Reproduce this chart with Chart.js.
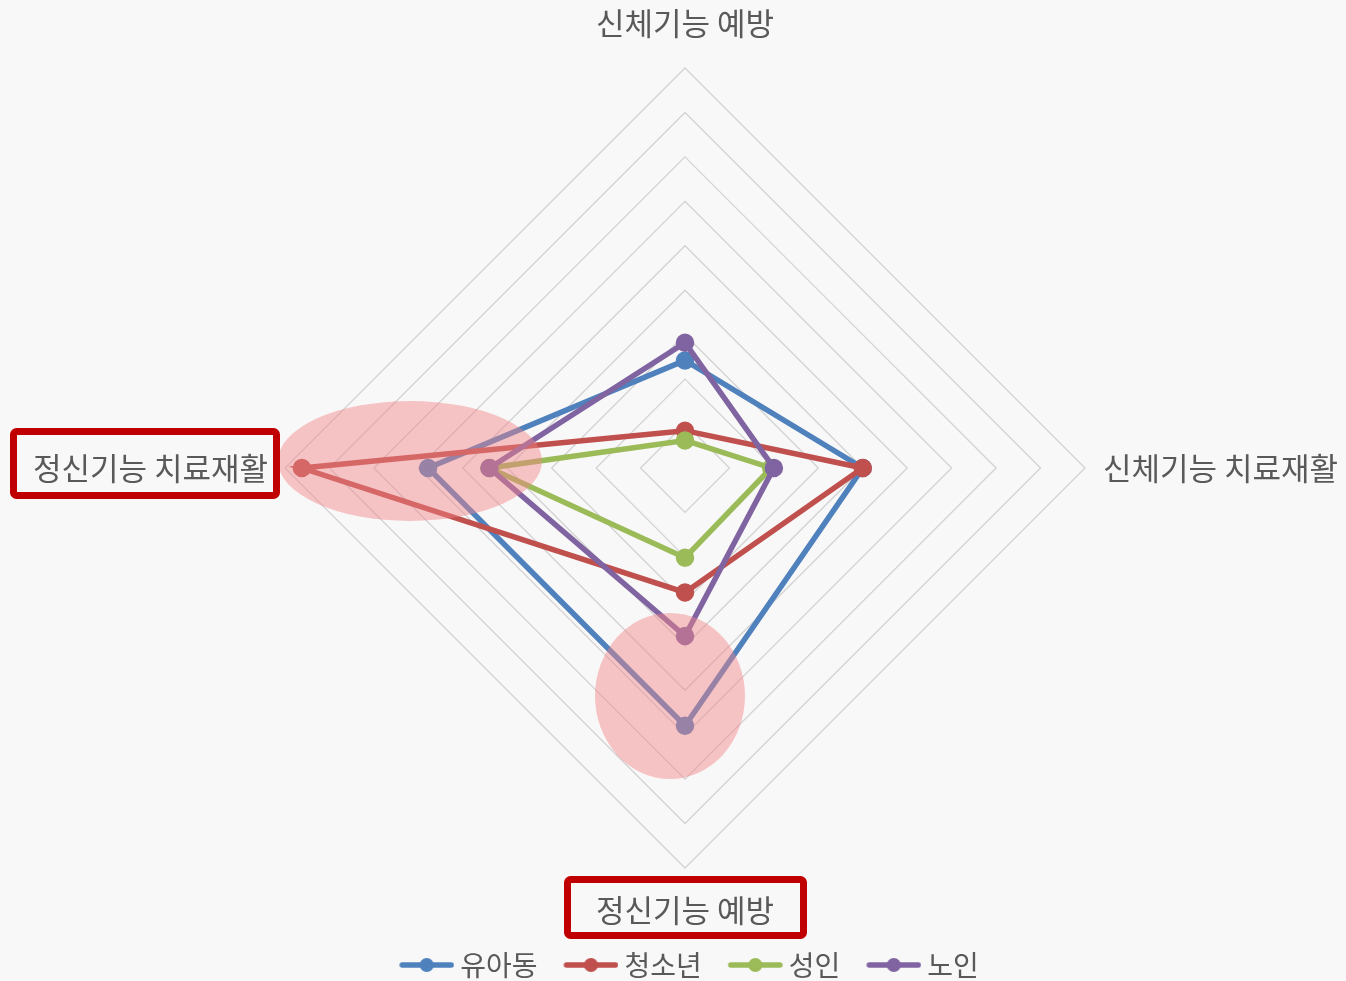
<!DOCTYPE html>
<html>
<head>
<meta charset="utf-8">
<script src="https://cdn.jsdelivr.net/npm/chart.js@4"></script>
<style>
    html, body { margin: 0; padding: 0; background: #f9f8f8; }
    #wrap { width: 1346px; height: 981px; }
</style>
</head>
<body>
<div id="wrap"><canvas id="radarChart" width="1346" height="981"></canvas></div>
<script>
// axis categories, clockwise from the top
const categories = ['신체기능 예방', '신체기능 치료재활', '정신기능 예방', '정신기능 치료재활'];
const seriesNames = ['유아동', '청소년', '성인', '노인'];
const infantValues = [12.1, 20, 29, 28.9];
const youthValues = [4.2, 20, 14, 43.1];
const adultValues = [3.1, 9.7, 10.1, 22];
const seniorValues = [14.1, 10, 18.9, 22];
const scaleMax = 45;
const scaleStep = 5;

const colors = ['#4f81bd', '#c0504d', '#9bbb59', '#8064a2'];
const fontFamily = '"Noto Sans CJK KR", "Noto Sans", sans-serif';
const labelFont = '31px ' + fontFamily;

// legend marker: a short line with a dot in the middle
// (drawn off-centre in a wider image so it sits close to the text)
function legendMarker(color) {
    const c = document.createElement('canvas');
    c.width = 71;
    c.height = 18;
    const ctx = c.getContext('2d');
    ctx.strokeStyle = color;
    ctx.lineWidth = 5.5;
    ctx.lineCap = 'round';
    ctx.beginPath();
    ctx.moveTo(19, 9);
    ctx.lineTo(68, 9);
    ctx.stroke();
    ctx.fillStyle = color;
    ctx.beginPath();
    ctx.arc(43.5, 9, 7, 0, Math.PI * 2);
    ctx.fill();
    return c;
}

const background = {
    id: 'background',
    beforeDraw(chart) {
        const ctx = chart.ctx;
        ctx.save();
        ctx.fillStyle = '#f9f8f8';
        ctx.fillRect(0, 0, chart.width, chart.height);
        ctx.restore();
    }
};

// axis titles, highlight ellipses and red boxes
const annotations = {
    id: 'annotations',
    afterDatasetsDraw(chart) {
        const ctx = chart.ctx;
        const s = chart.scales.r;
        const cx = s.xCenter, cy = s.yCenter;
        ctx.save();

        ctx.fillStyle = 'rgba(242, 130, 135, 0.45)';
        ctx.beginPath();
        ctx.ellipse(cx - 275, cy - 7, 132, 60, 0, 0, Math.PI * 2);
        ctx.fill();
        ctx.beginPath();
        ctx.ellipse(cx - 15, cy + 228, 75, 83, 0, 0, Math.PI * 2);
        ctx.fill();

        ctx.font = labelFont;
        ctx.fillStyle = '#595959';
        ctx.textBaseline = 'middle';
        const dist = [445, 418, 442, 417];
        const align = ['center', 'left', 'center', 'right'];
        categories.forEach((label, i) => {
            const p = s.getPointPosition(i, dist[i]);
            ctx.textAlign = align[i];
            ctx.fillText(label, p.x, p.y);
        });

        ctx.strokeStyle = '#c00000';
        ctx.lineWidth = 7;
        ctx.beginPath();
        ctx.roundRect(13.5, 431.5, 263, 64, 3);
        ctx.stroke();
        ctx.beginPath();
        ctx.roundRect(567.5, 879.5, 236, 56, 3);
        ctx.stroke();
        ctx.restore();
    }
};

const seriesValues = [infantValues, youthValues, adultValues, seniorValues];

const data = {
    labels: categories,
    datasets: seriesNames.map((name, i) => ({
        label: name,
        data: seriesValues[i],
        borderColor: colors[i],
        backgroundColor: colors[i],
        pointBackgroundColor: colors[i],
        pointBorderColor: colors[i],
        borderWidth: 5.5,
        pointRadius: 6.5,
        pointHoverRadius: 6.5,
        fill: false,
        order: 4 - i
    }))
};

const config = {
    type: 'radar',
    data,
    options: {
        responsive: false,
        animation: false,
        layout: {
            padding: { left: 285, right: 261, top: 3, bottom: -8 }
        },
        scales: {
            r: {
                min: 0,
                max: scaleMax,
                ticks: { display: false, stepSize: scaleStep },
                grid: { color: '#d3d3d3', lineWidth: 1.3 },
                angleLines: { display: false },
                pointLabels: { display: false }
            }
        },
        plugins: {
            tooltip: { enabled: false },
            legend: {
                position: 'bottom',
                labels: {
                    usePointStyle: true,
                    pointStyleWidth: 55,
                    padding: 18,
                    color: '#595959',
                    font: { size: 28, family: fontFamily },
                    generateLabels(chart) {
                        return chart.data.datasets.map((ds, i) => ({
                            text: ds.label,
                            fillStyle: colors[i],
                            strokeStyle: colors[i],
                            fontColor: '#595959',
                            pointStyle: legendMarker(colors[i]),
                            lineWidth: 0,
                            hidden: false,
                            datasetIndex: i
                        }));
                    }
                }
            }
        }
    },
    plugins: [background, annotations]
};

window.addEventListener('load', function () {
    new Chart(document.getElementById('radarChart').getContext('2d'), config);
});
</script>
</body>
</html>
